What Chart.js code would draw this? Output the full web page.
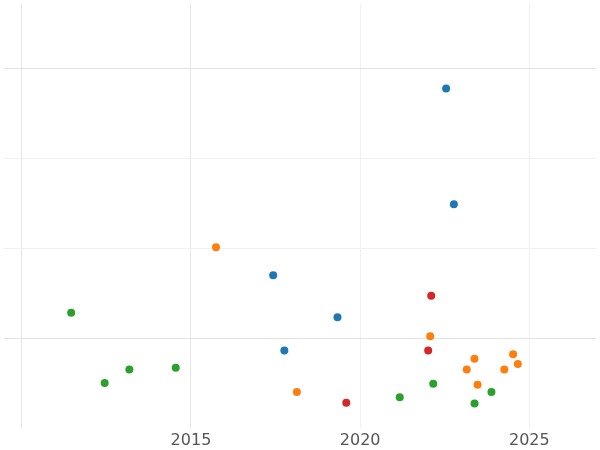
<!DOCTYPE html>
<html><head><meta charset="utf-8">
<script src="https://cdn.jsdelivr.net/npm/chart.js@4"></script>
<style>html,body{margin:0;padding:0;background:#fff}#w{width:600px;height:450px}</style>
</head><body><div id="w"><canvas id="c"></canvas></div>
<script>
const blueX=[2022.54,2022.77,2017.43,2019.33,2017.76];
const blueY=[3.78,2.49,1.70,1.23,0.86];
const orangeX=[2015.74,2022.07,2023.38,2023.15,2023.47,2024.52,2024.26,2024.66,2018.13];
const orangeY=[2.01,1.02,0.77,0.65,0.48,0.82,0.65,0.71,0.40];
const greenX=[2011.46,2012.45,2013.18,2014.55,2021.17,2022.16,2023.38,2023.88];
const greenY=[1.28,0.50,0.65,0.67,0.34,0.49,0.27,0.40];
const redX=[2022.10,2022.01,2019.59];
const redY=[1.47,0.86,0.28];
const xTicks=[2015,2020,2025];
const pts=(xs,ys)=>xs.map((x,i)=>({x:x,y:ys[i]}));
const ds=(xs,ys,c)=>({data:pts(xs,ys),backgroundColor:c,borderColor:c,borderWidth:0,pointRadius:4,pointHoverRadius:4});
new Chart(document.getElementById('c'),{type:'scatter',
data:{datasets:[ds(blueX,blueY,'#1f77b4'),ds(orangeX,orangeY,'#ff7f0e'),ds(greenX,greenY,'#2ca02c'),ds(redX,redY,'#d62728')]},
options:{responsive:true,maintainAspectRatio:false,animation:false,
layout:{padding:{left:-5,right:-5,top:-5,bottom:-3}},
plugins:{legend:{display:false},tooltip:{enabled:false}},
scales:{
x:{type:'linear',min:2009.475,max:2026.97,
 afterBuildTicks:a=>{a.ticks=[2010,2015,2020,2025].map(v=>({value:v}));},
 grid:{color:c=>c.tick&&c.tick.value<=2015?'#e6e6e6':'#f0f0f0',drawTicks:false},border:{display:false},
 ticks:{padding:3,color:'#555',font:{size:16,family:'DejaVu Sans'},callback:v=>xTicks.includes(v)?String(v):''}},
y:{min:0,max:4.72,
 afterBuildTicks:a=>{a.ticks=[1,2,3,4].map(v=>({value:v}));},
 grid:{color:c=>c.tick&&(c.tick.value===1||c.tick.value===4)?'#e3e3e3':'#f0f0f0',drawTicks:false},border:{display:false},
 ticks:{display:false}}
}}});
</script></body></html>
